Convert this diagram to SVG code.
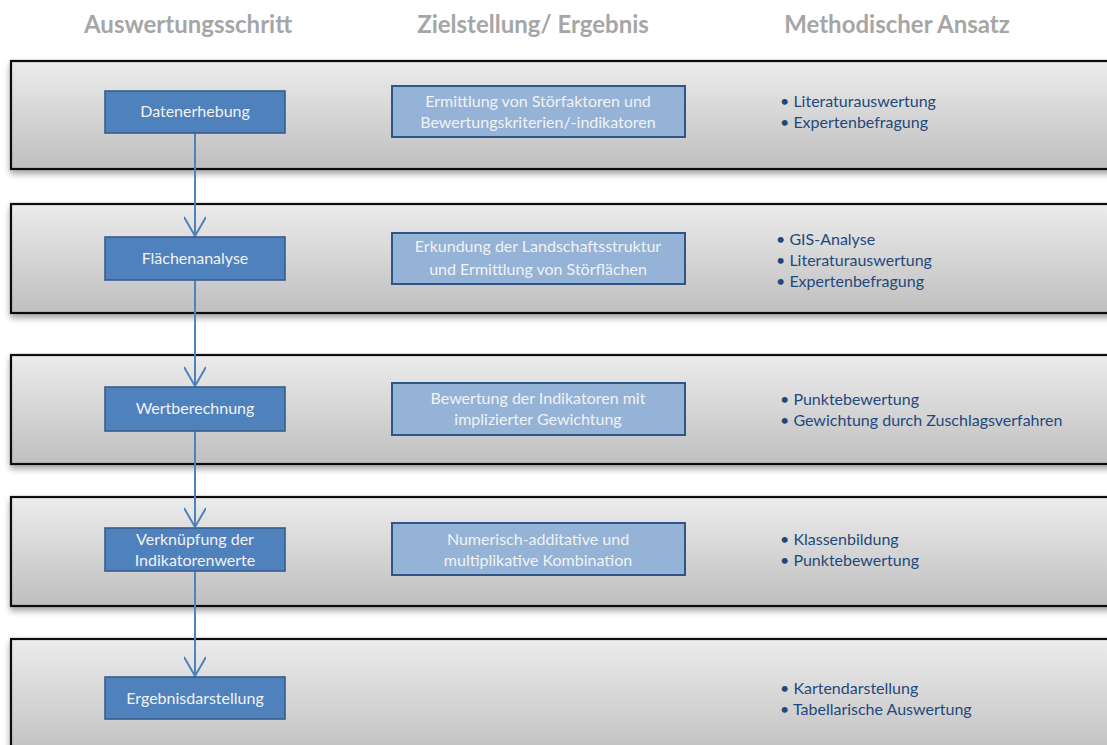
<svg xmlns="http://www.w3.org/2000/svg" width="1107" height="745" viewBox="0 0 1107 745">
<defs>
<linearGradient id="bandGrad" x1="0" y1="0" x2="0" y2="1">
<stop offset="0" stop-color="#ececec"/>
<stop offset="1" stop-color="#bfbfbf"/>
</linearGradient>
<filter id="shadow" x="-5%" y="-20%" width="110%" height="150%">
<feDropShadow dx="0" dy="4" stdDeviation="3" flood-color="#000" flood-opacity="0.35"/>
</filter>
<marker id="arrow" markerWidth="26" markerHeight="22" refX="21" refY="11" orient="auto" markerUnits="userSpaceOnUse">
<path d="M2,0 L21,11 L2,22" fill="none" stroke="#4f81bd" stroke-width="2"/>
</marker>
<style>
.band{fill:url(#bandGrad);stroke:#0d0d0d;stroke-width:2.2;filter:url(#shadow)}
.step{fill:#4f81bd;stroke:#385d8a;stroke-width:1.6}
.goal{fill:#95b3d7;stroke:#2f5589;stroke-width:2}
.hdr{font-family:Lato,"Liberation Sans",sans-serif;font-size:24px;font-weight:bold;fill:#a6a6a6;text-anchor:middle}
.st{font-family:Lato,"Liberation Sans",sans-serif;font-size:16px;fill:#f2f2f2;text-anchor:middle}
.gt{font-family:Lato,"Liberation Sans",sans-serif;font-size:16px;fill:#f2f2f2;text-anchor:middle}
.mt{font-family:Lato,"Liberation Sans",sans-serif;font-size:16px;fill:#1f497d}
.conn{stroke:#4f81bd;stroke-width:2;fill:none;marker-end:url(#arrow)}
</style>
</defs>
<rect width="1107" height="745" fill="#ffffff"/>
<g id="headers">
<text class="hdr" x="188" y="33">Auswertungsschritt</text>
<text class="hdr" x="533" y="33">Zielstellung/ Ergebnis</text>
<text class="hdr" x="897" y="33">Methodischer Ansatz</text>
</g>
<g id="bands">
<rect class="band" x="11" y="61" width="1110" height="108"/>
<rect class="band" x="11" y="204" width="1110" height="109"/>
<rect class="band" x="11" y="355" width="1110" height="109"/>
<rect class="band" x="11" y="497" width="1110" height="109"/>
<rect class="band" x="11" y="639" width="1110" height="120"/>
</g>
<g id="connectors">
<line class="conn" x1="195" y1="133" x2="195" y2="236"/>
<line class="conn" x1="195" y1="280" x2="195" y2="386"/>
<line class="conn" x1="195" y1="431" x2="195" y2="527"/>
<line class="conn" x1="195" y1="571" x2="195" y2="676"/>
</g>
<g id="step1">
<rect class="step" x="105" y="91" width="180" height="42"/>
<text class="st" x="195" y="117">Datenerhebung</text>
</g>
<g id="step2">
<rect class="step" x="105" y="237" width="180" height="43"/>
<text class="st" x="195" y="264">Flächenanalyse</text>
</g>
<g id="step3">
<rect class="step" x="105" y="387" width="180" height="44"/>
<text class="st" x="195" y="414">Wertberechnung</text>
</g>
<g id="step4">
<rect class="step" x="105" y="528" width="180" height="43"/>
<text class="st" x="195" y="545">Verknüpfung der</text>
<text class="st" x="195" y="566">Indikatorenwerte</text>
</g>
<g id="step5">
<rect class="step" x="105" y="677" width="180" height="42"/>
<text class="st" x="195" y="704">Ergebnisdarstellung</text>
</g>
<g id="goal1">
<rect class="goal" x="392" y="86" width="293" height="51"/>
<text class="gt" x="538" y="107">Ermittlung von Störfaktoren und</text>
<text class="gt" x="538" y="128">Bewertungskriterien/-indikatoren</text>
</g>
<g id="goal2">
<rect class="goal" x="392" y="233" width="293" height="51"/>
<text class="gt" x="538" y="252">Erkundung der Landschaftsstruktur</text>
<text class="gt" x="538" y="275">und Ermittlung von Störflächen</text>
</g>
<g id="goal3">
<rect class="goal" x="392" y="383" width="293" height="52"/>
<text class="gt" x="538" y="404">Bewertung der  Indikatoren mit</text>
<text class="gt" x="538" y="425">implizierter Gewichtung</text>
</g>
<g id="goal4">
<rect class="goal" x="392" y="523" width="293" height="52"/>
<text class="gt" x="538" y="545">Numerisch-additative und</text>
<text class="gt" x="538" y="566">multiplikative Kombination</text>
</g>
<g id="method1">
<text class="mt" x="780" y="107">• Literaturauswertung</text>
<text class="mt" x="780" y="128">• Expertenbefragung</text>
</g>
<g id="method2">
<text class="mt" x="776" y="245">• GIS-Analyse</text>
<text class="mt" x="776" y="266">• Literaturauswertung</text>
<text class="mt" x="776" y="287">• Expertenbefragung</text>
</g>
<g id="method3">
<text class="mt" x="780" y="405">• Punktebewertung</text>
<text class="mt" x="780" y="426">• Gewichtung durch Zuschlagsverfahren</text>
</g>
<g id="method4">
<text class="mt" x="780" y="545">• Klassenbildung</text>
<text class="mt" x="780" y="566">• Punktebewertung</text>
</g>
<g id="method5">
<text class="mt" x="780" y="694">• Kartendarstellung</text>
<text class="mt" x="780" y="715">• Tabellarische Auswertung</text>
</g>
</svg>
